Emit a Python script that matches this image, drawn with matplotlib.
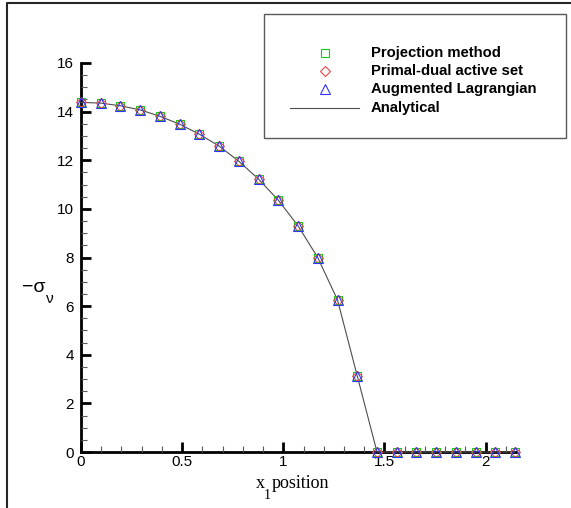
import numpy as np
import matplotlib
matplotlib.use("Agg")
import matplotlib.pyplot as plt
from matplotlib.lines import Line2D
from matplotlib.patches import Rectangle
from matplotlib.ticker import MultipleLocator

# data
x_pos = [0.0, 0.098, 0.195, 0.293, 0.39, 0.488, 0.585, 0.683, 0.78, 0.878,
         0.975, 1.073, 1.17, 1.268, 1.365, 1.463, 1.56, 1.658, 1.755, 1.853,
         1.95, 2.048, 2.145]
sigma = [14.38, 14.35, 14.24, 14.07, 13.81, 13.48, 13.07, 12.58, 11.96, 11.22,
         10.36, 9.3, 8.0, 6.25, 3.14, 0.0, 0.0, 0.0, 0.0, 0.0,
         0.0, 0.0, 0.0]
legend_labels = ["Projection method", "Primal-dual active set",
                 "Augmented Lagrangian", "Analytical"]

W, H = 571, 508
fig = plt.figure(figsize=(W / 100, H / 100), dpi=100)
plt.rcParams['font.family'] = ['Liberation Sans', 'DejaVu Sans']

def fx(px):
    return px / W

def fy(py):
    return 1 - py / H

# axes box: x 0 -> 81px, 2.15 -> 516px ; y 0 -> 452px, 16 -> 63px
ax = fig.add_axes([fx(81), fy(452), fx(516) - fx(81), fy(63) - fy(452)])
ax.set_xlim(0, 2.15)
ax.set_ylim(0, 16)

ax.plot(x_pos, sigma, color='0.3', lw=0.8, zorder=2, clip_on=False)
ax.plot(x_pos, sigma, ls='none', marker='s', ms=5.5, mfc='none', mec='#11cc11',
        mew=0.8, zorder=3, clip_on=False)
ax.plot(x_pos, sigma, ls='none', marker='D', ms=5.5, mfc='none', mec='#ee4444',
        mew=0.7, zorder=4, clip_on=False)
ax.plot(x_pos, sigma, ls='none', marker='^', ms=6.5, mfc='none', mec='#3333ff',
        mew=0.8, zorder=5, clip_on=False)

for s in ['top', 'right']:
    ax.spines[s].set_visible(False)
for s in ['left', 'bottom']:
    ax.spines[s].set_linewidth(2)
    ax.spines[s].set_zorder(1)

ax.xaxis.set_major_locator(MultipleLocator(0.5))
ax.xaxis.set_minor_locator(MultipleLocator(0.1))
ax.yaxis.set_major_locator(MultipleLocator(2))
ax.yaxis.set_minor_locator(MultipleLocator(0.5))
ax.set_xticks([0, 0.5, 1, 1.5, 2])
ax.set_xticklabels(['0', '0.5', '1', '1.5', '2'])
ax.tick_params(which='major', direction='in', length=7, width=2, labelsize=11, pad=3)
ax.tick_params(which='minor', direction='in', length=4, width=0.8, color='0.35')
ax.tick_params(axis='y', which='major', pad=5)
ax.tick_params(axis='x', which='major', pad=2)

# axis labels
fig.text(fx(22), fy(292), '\u2212\u03c3', fontsize=14, va='baseline', ha='left')
fig.text(fx(46), fy(303), '\u03bd', fontsize=11, va='baseline', ha='left')
fig.text(fx(256), fy(488), 'x', fontsize=13, family='Liberation Serif', va='baseline')
fig.text(fx(264), fy(499), '1', fontsize=10, family='Liberation Serif', va='baseline')
fig.text(fx(272), fy(488), 'position', fontsize=13, family='Liberation Serif', va='baseline')

# legend box
fig.add_artist(Rectangle((fx(264), fy(138)), fx(566) - fx(264), fy(14) - fy(138),
                         transform=fig.transFigure, fill=False, ec='0.35', lw=1))
rows = [52.7, 71, 88.7, 107.7]
styles = [('s', '#11cc11', 5.5), ('D', '#ee4444', 5.5), ('^', '#3333ff', 6.5)]
for (m, c, ms), ry in zip(styles, rows[:3]):
    fig.add_artist(Line2D([fx(325)], [fy(ry)], marker=m, ms=ms, mfc='none', mec=c,
                          mew=0.8, ls='none', transform=fig.transFigure))
fig.add_artist(Line2D([fx(290), fx(359)], [fy(rows[3]), fy(rows[3])], color='0.3',
                      lw=0.8, transform=fig.transFigure))
for lab, ry in zip(legend_labels, rows):
    fig.text(fx(371), fy(ry), lab, fontsize=10.7, fontweight='bold', va='center', ha='left')

# outer frame (top and left only)
fig.add_artist(Line2D([fx(7), fx(7), 1.0], [0.0, fy(3), fy(3)], color='0.15', lw=1.5,
                      transform=fig.transFigure))

fig.savefig('out.png', dpi=100)
